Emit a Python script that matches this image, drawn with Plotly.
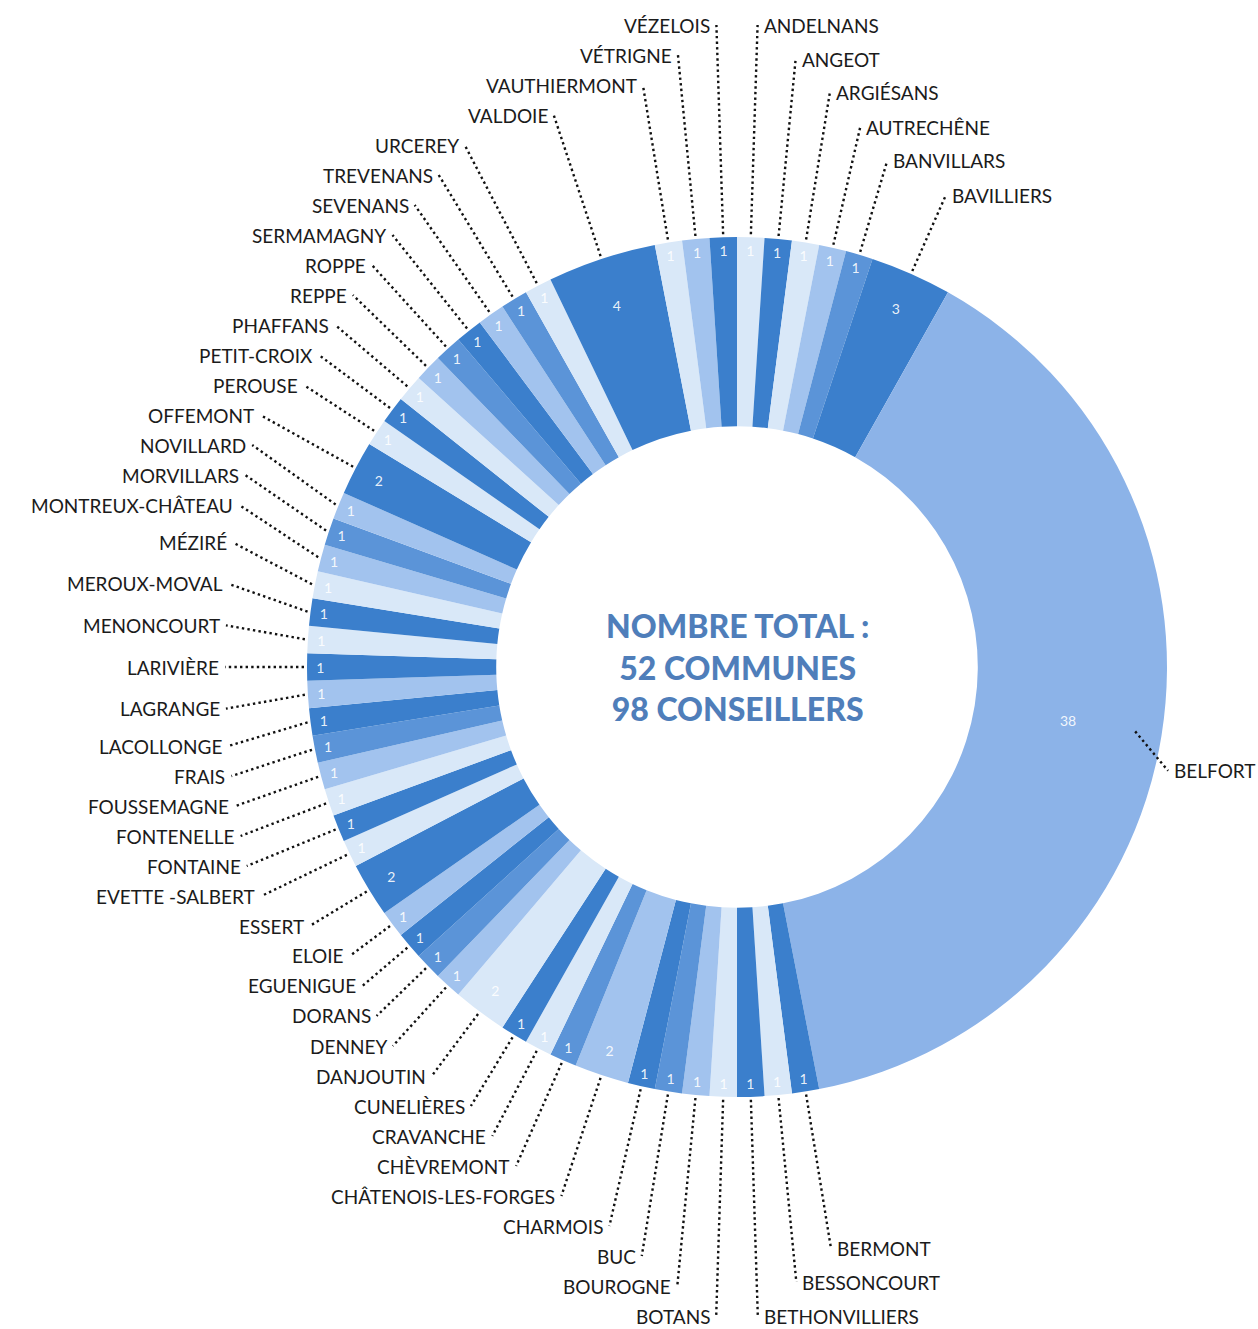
import math
import plotly.graph_objects as go

# ---------------- data (clockwise from 12 o'clock) ----------------
communes = [
    "ANDELNANS", "ANGEOT", "ARGIÉSANS", "AUTRECHÊNE", "BANVILLARS", "BAVILLIERS",
    "BELFORT", "BERMONT", "BESSONCOURT", "BETHONVILLIERS", "BOTANS", "BOUROGNE",
    "BUC", "CHARMOIS", "CHÂTENOIS-LES-FORGES", "CHÈVREMONT", "CRAVANCHE",
    "CUNELIÈRES", "DANJOUTIN", "DENNEY", "DORANS", "EGUENIGUE", "ELOIE", "ESSERT",
    "EVETTE -SALBERT", "FONTAINE", "FONTENELLE", "FOUSSEMAGNE", "FRAIS",
    "LACOLLONGE", "LAGRANGE", "LARIVIÈRE", "MENONCOURT", "MEROUX-MOVAL", "MÉZIRÉ",
    "MONTREUX-CHÂTEAU", "MORVILLARS", "NOVILLARD", "OFFEMONT", "PEROUSE",
    "PETIT-CROIX", "PHAFFANS", "REPPE", "ROPPE", "SERMAMAGNY", "SEVENANS",
    "TREVENANS", "URCEREY", "VALDOIE", "VAUTHIERMONT", "VÉTRIGNE", "VÉZELOIS",
]
conseillers = [
    1, 1, 1, 1, 1, 3,          # Andelnans .. Bavilliers
    38,                        # Belfort
    1, 1, 1, 1, 1, 1, 1,       # Bermont .. Charmois
    2,                         # Châtenois-les-Forges
    1, 1, 1,                   # Chèvremont .. Cunelières
    2,                         # Danjoutin
    1, 1, 1, 1,                # Denney .. Eloie
    2,                         # Essert
    1, 1, 1, 1, 1, 1, 1, 1, 1, 1, 1, 1, 1, 1,   # Evette .. Novillard
    2,                         # Offemont
    1, 1, 1, 1, 1, 1, 1, 1, 1, # Perouse .. Urcerey
    4,                         # Valdoie
    1, 1, 1,                   # Vauthiermont .. Vézelois
]
center_lines = ["NOMBRE TOTAL :", "52 COMMUNES", "98 CONSEILLERS"]

# ---------------- styles ----------------
D, M, L, V, B = "#3b7fcc", "#5b94d8", "#a2c3ee", "#d9e8f8", "#8cb3e8"
slice_colors = [
    V, D, V, L, M, D,
    B,
    D, V, D, V, L, M, D,
    L,
    M, V, D,
    V,
    L, M, D, L,
    D,
    V, D, V, L, M, D, L, D, V, D, V, L, M, L,
    D,
    V, D, V, L, M, D, L, M, V,
    D,
    V, L, D,
]

W, H = 1258, 1329
CX, CY, R = 737, 667, 430
HOLE = 0.56
LABEL_FONT = dict(family="Lato, 'Open Sans', sans-serif", size=19, color="#1b1b1b")


def px(x):
    return x / W


def py(y):
    return 1 - y / H


total = sum(conseillers)
mids = []
acc = 0
for v in conseillers:
    mids.append((acc + v / 2) / total * 360.0)
    acc += v


def relax(ys, gap, ymin, ymax):
    ys = [min(max(y, ymin), ymax) for y in ys]
    for k in range(1, len(ys)):
        ys[k] = max(ys[k], ys[k - 1] + gap)
    if ys and ys[-1] > ymax:
        ys[-1] = ymax
    for k in range(len(ys) - 2, -1, -1):
        ys[k] = min(ys[k], ys[k + 1] - gap)
    if ys and ys[0] < ymin:
        ys[0] = ymin
        for k in range(1, len(ys)):
            ys[k] = max(ys[k], ys[k - 1] + gap)
    return ys


def place(indices, sgn, gap, a, clear, b=690.0, rl=650.0, ymin=25, ymax=1316):
    desired = [CY - rl * math.cos(math.radians(mids[i])) for i in indices]
    order = sorted(range(len(indices)), key=lambda k: desired[k])
    ys = relax([desired[k] for k in order], gap, ymin, ymax)
    out = {}
    for k, y in zip(order, ys):
        i = indices[k]
        th = math.radians(mids[i])
        dy = CY - y
        bound = a * math.sqrt(max(0.0, 1 - (dy / b) ** 2))
        mclear = math.sqrt(max(0.0, clear ** 2 - dy ** 2))
        c = math.cos(th)
        ray = None
        if abs(c) > 1e-6:
            t = dy / c
            if t > 0:
                ray = abs(t * math.sin(th))
        dxl = bound if ray is None else min(bound, ray)
        dxl = max(mclear, dxl)
        out[i] = (CX + sgn * dxl, y)
    return out


right_idx = [i for i in range(len(communes)) if mids[i] < 180]
left_idx = [i for i in range(len(communes)) if mids[i] >= 180]
pos = {}
pos.update(place(right_idx, +1, 34, a=436, clear=436))
pos.update(place(left_idx, -1, 30, a=512, clear=462))

fig = go.Figure()
fig.add_trace(go.Pie(
    labels=communes,
    values=conseillers,
    text=[str(v) for v in conseillers],
    textinfo="text",
    textposition="inside",
    insidetextorientation="horizontal",
    textfont=dict(family="Lato, sans-serif", size=14, color="rgba(255,255,255,0.9)"),
    sort=False,
    direction="clockwise",
    rotation=0,
    hole=HOLE,
    marker=dict(colors=slice_colors, line=dict(width=0)),
    domain=dict(x=[px(CX - R), px(CX + R)], y=[py(CY + R), py(CY - R)]),
    showlegend=False,
    hovertemplate="%{label}: %{value}<extra></extra>",
))

shapes = []
annotations = []
for i, name in enumerate(communes):
    xl, yl = pos[i]
    sgn = 1 if i in right_idx else -1
    th = math.radians(mids[i])
    rlab = math.hypot(xl - CX, yl - CY)
    r0 = min(R + 3, rlab - 40)
    x0 = CX + r0 * math.sin(th)
    y0 = CY - r0 * math.cos(th)
    shapes.append(dict(
        type="line", xref="paper", yref="paper",
        x0=px(x0), y0=py(y0), x1=px(xl), y1=py(yl),
        line=dict(color="#111111", width=2.4, dash="2.4px,3.2px"),
        layer="above",
    ))
    annotations.append(dict(
        x=px(xl + sgn * 4), y=py(yl), xref="paper", yref="paper",
        text=name, showarrow=False,
        xanchor="left" if sgn > 0 else "right", yanchor="middle",
        font=LABEL_FONT,
    ))

annotations.append(dict(
    x=px(CX), y=py(CY), xref="paper", yref="paper",
    text="<br>".join(center_lines), showarrow=False,
    xanchor="center", yanchor="middle", align="center",
    font=dict(family="Lato, 'Open Sans', sans-serif", size=32,
              color="#4f7eba", weight=900),
))

fig.update_layout(
    width=W, height=H,
    margin=dict(l=0, r=0, t=0, b=0),
    paper_bgcolor="white",
    plot_bgcolor="white",
    shapes=shapes,
    annotations=annotations,
)

fig.write_html(
    "out.html",
    config={"displayModeBar": False},
    post_script="document.body.style.margin='0';document.body.style.overflow='hidden';",
)
